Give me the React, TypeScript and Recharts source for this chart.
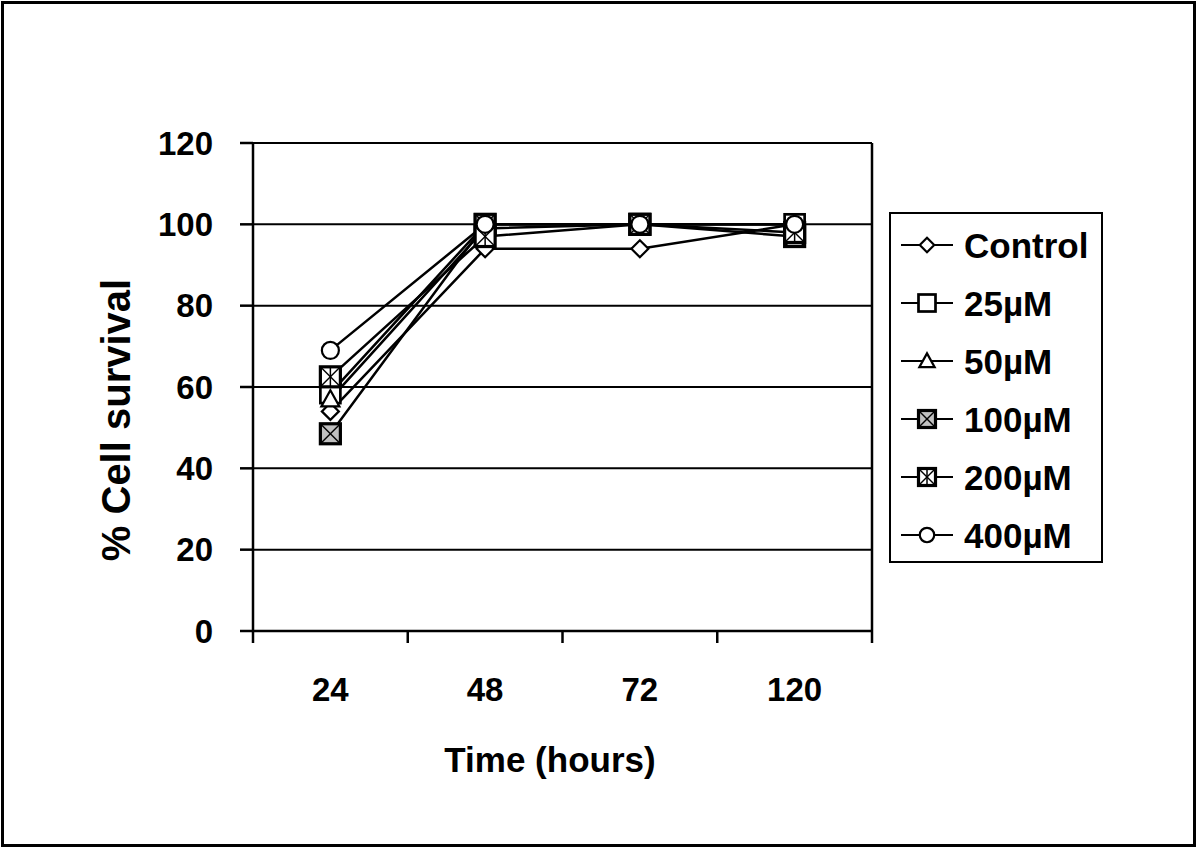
import React from 'react';
import { LineChart, Line, XAxis, YAxis, CartesianGrid, ReferenceLine, Label } from 'recharts';

const times = ['24', '48', '72', '120'];
const control = [54, 94, 94, 100];
const uM25 = [58.5, 100, 100, 100];
const uM50 = [57, 99, 100, 100];
const uM100 = [48.5, 100, 100, 97];
const uM200 = [62.5, 97, 100, 98];
const uM400 = [69, 100, 100, 100];
const yTicks = [0, 20, 40, 60, 80, 100, 120];

const FONT = '"Liberation Sans", Arial, Helvetica, sans-serif';

type Shape = 'diamond' | 'square' | 'triangle' | 'squareX' | 'squareStar' | 'circle';

const series: { key: string; name: string; values: number[]; shape: Shape }[] = [
  { key: 'control', name: 'Control', values: control, shape: 'diamond' },
  { key: 'uM25', name: '25\u00b5M', values: uM25, shape: 'square' },
  { key: 'uM50', name: '50\u00b5M', values: uM50, shape: 'triangle' },
  { key: 'uM100', name: '100\u00b5M', values: uM100, shape: 'squareX' },
  { key: 'uM200', name: '200\u00b5M', values: uM200, shape: 'squareStar' },
  { key: 'uM400', name: '400\u00b5M', values: uM400, shape: 'circle' },
];

const data = times.map((t, i) => {
  const row: Record<string, number | string> = { x: i + 0.5, time: t };
  series.forEach((s) => {
    row[s.key] = s.values[i];
  });
  return row;
});

const xTicks = Array.from({ length: times.length * 2 + 1 }, (_, i) => i / 2);

function Marker({ shape, cx, cy, s = 1 }: { shape: Shape; cx: number; cy: number; s?: number }) {
  const sw = 2.2;
  if (cx == null || cy == null) return null;
  switch (shape) {
    case 'diamond': {
      const h = 8.5 * s;
      return (
        <polygon
          points={`${cx},${cy - h} ${cx + h},${cy} ${cx},${cy + h} ${cx - h},${cy}`}
          fill="#fff"
          stroke="#000"
          strokeWidth={sw}
        />
      );
    }
    case 'square': {
      const h = 10 * s;
      return <rect x={cx - h} y={cy - h} width={2 * h} height={2 * h} fill="#fff" stroke="#000" strokeWidth={sw + 0.5} />;
    }
    case 'triangle': {
      const h = 9 * s;
      return (
        <polygon
          points={`${cx},${cy - h} ${cx + h},${cy + h * 0.8} ${cx - h},${cy + h * 0.8}`}
          fill="#fff"
          stroke="#000"
          strokeWidth={sw}
        />
      );
    }
    case 'squareX': {
      const h = 10 * s;
      return (
        <g>
          <rect x={cx - h} y={cy - h} width={2 * h} height={2 * h} fill="#c0c0c0" stroke="#000" strokeWidth={sw + 1} />
          <line x1={cx - h} y1={cy - h} x2={cx + h} y2={cy + h} stroke="#000" strokeWidth={1.5} />
          <line x1={cx - h} y1={cy + h} x2={cx + h} y2={cy - h} stroke="#000" strokeWidth={1.5} />
        </g>
      );
    }
    case 'squareStar': {
      const h = 10 * s;
      return (
        <g>
          <rect x={cx - h} y={cy - h} width={2 * h} height={2 * h} fill="#fff" stroke="#000" strokeWidth={sw + 1} />
          <line x1={cx - h} y1={cy - h} x2={cx + h} y2={cy + h} stroke="#000" strokeWidth={1.5} />
          <line x1={cx - h} y1={cy + h} x2={cx + h} y2={cy - h} stroke="#000" strokeWidth={1.5} />
          <line x1={cx} y1={cy - h} x2={cx} y2={cy + h} stroke="#000" strokeWidth={1.5} />
        </g>
      );
    }
    case 'circle':
    default:
      return <circle cx={cx} cy={cy} r={8.5 * s} fill="#fff" stroke="#000" strokeWidth={sw} />;
  }
}

const makeDot = (shape: Shape) => (props: any) => (
  <Marker key={`${shape}-${props.index}`} shape={shape} cx={props.cx} cy={props.cy} />
);

const XTick = (props: any) => {
  const { x, y, payload } = props;
  const v = payload.value as number;
  if (Number.isInteger(v)) {
    return <line x1={x} x2={x} y1={y} y2={y + 12} stroke="#000" strokeWidth={2.5} />;
  }
  return (
    <text x={x} y={y + 70} textAnchor="middle" fontFamily={FONT} fontWeight="bold" fontSize={33} fill="#000">
      {times[Math.floor(v)]}
    </text>
  );
};

const LegendBox = () => {
  const rowH = 58;
  return (
    <div
      style={{
        position: 'absolute',
        left: 889,
        top: 212,
        width: 214,
        height: 351,
        border: '2.5px solid #000',
        boxSizing: 'border-box',
        background: '#fff',
      }}
    >
      <svg width={209} height={346} style={{ display: 'block' }}>
        {series.map((s, i) => {
          const cy = 31 + i * rowH;
          return (
            <g key={s.key}>
              <line x1={10} x2={62} y1={cy} y2={cy} stroke="#000" strokeWidth={2.2} />
              <Marker shape={s.shape} cx={36} cy={cy} s={0.85} />
              <text
                x={73}
                y={cy}
                dominantBaseline="central"
                fontFamily={FONT}
                fontWeight="bold"
                fontSize={35}
                fill="#000"
              >
                {s.name}
              </text>
            </g>
          );
        })}
      </svg>
    </div>
  );
};

export default function App() {
  return (
    <div style={{ position: 'absolute', left: 0, top: 0, width: 1200, height: 849, background: '#fff' }}>
      <LineChart
        width={1200}
        height={849}
        data={data}
        margin={{ top: 143, right: 328, bottom: 0, left: 0 }}
      >
        <CartesianGrid horizontal vertical={false} stroke="#000" strokeWidth={2} />
        <XAxis
          dataKey="x"
          type="number"
          domain={[0, times.length]}
          ticks={xTicks}
          interval={0}
          height={218}
          tickSize={0}
          tickMargin={0}
          tickLine={false}
          axisLine={{ stroke: '#000', strokeWidth: 2.5 }}
          tick={<XTick />}
        >
          <Label
            content={() => (
              <text x={550} y={772} textAnchor="middle" fontFamily={FONT} fontWeight="bold" fontSize={35} fill="#000">
                Time (hours)
              </text>
            )}
          />
        </XAxis>
        <YAxis
          type="number"
          domain={[0, 120]}
          ticks={yTicks}
          interval={0}
          width={253}
          tickSize={13}
          tickMargin={27}
          axisLine={{ stroke: '#000', strokeWidth: 2.5 }}
          tickLine={{ stroke: '#000', strokeWidth: 2.5 }}
          tick={{ fontFamily: FONT, fontWeight: 'bold', fontSize: 33, fill: '#000' }}
        >
          <Label
            content={() => (
              <text
                x={130}
                y={420}
                transform="rotate(-90, 130, 420)"
                textAnchor="middle"
                fontFamily={FONT}
                fontWeight="bold"
                fontSize={40}
                fill="#000"
              >
                % Cell survival
              </text>
            )}
          />
        </YAxis>
        <ReferenceLine x={times.length} stroke="#000" strokeWidth={2.5} />
        {series.map((s) => (
          <Line
            key={s.key}
            dataKey={s.key}
            name={s.name}
            stroke="#000"
            strokeWidth={2.5}
            dot={makeDot(s.shape)}
            activeDot={false}
            isAnimationActive={false}
          />
        ))}
      </LineChart>
      <LegendBox />
      <div
        style={{
          position: 'absolute',
          left: 1,
          top: 1,
          width: 1195,
          height: 846,
          border: '3px solid #000',
          boxSizing: 'border-box',
          pointerEvents: 'none',
        }}
      />
    </div>
  );
}
